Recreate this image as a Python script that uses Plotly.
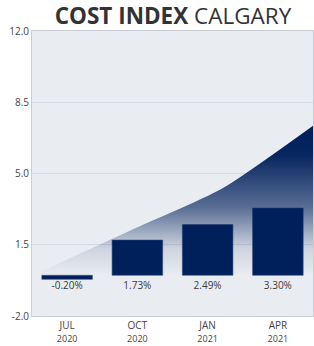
import plotly.graph_objects as go

# ---- data ----
months = ["JUL", "OCT", "JAN", "APR"]
years = ["2020", "2020", "2021", "2021"]
cost_index = [-0.20, 1.73, 2.49, 3.30]
value_labels = ["-0.20%", "1.73%", "2.49%", "3.30%"]

# decorative rising trend band behind the bars
trend_x = [-0.52, 0.9, 2.2, 3.52]
trend_y = [-0.05, 2.2, 4.25, 7.4]

y_ticks = [-2.0, 1.5, 5.0, 8.5, 12.0]

NAVY = "#00205b"
x_idx = list(range(len(months)))
tick_text = [f"{m}<br><span style='font-size:9px'>{y}</span>" for m, y in zip(months, years)]

fig = go.Figure()

fig.add_trace(go.Scatter(
    x=trend_x, y=trend_y, mode="lines", line=dict(width=0, shape="spline", smoothing=0.6),
    fill="tozeroy",
    fillgradient=dict(
        type="vertical", start=0, stop=7.4,
        colorscale=[[0, "rgba(0,32,91,0)"], [0.18, "rgba(0,32,91,0.12)"],
                    [0.45, "rgba(0,32,91,0.62)"], [0.8, "rgba(0,32,91,0.97)"],
                    [1, "rgba(0,32,91,1)"]],
    ),
    hoverinfo="skip", showlegend=False,
))

fig.add_trace(go.Bar(
    x=x_idx, y=cost_index, width=0.72,
    marker=dict(color=NAVY, line=dict(color="#34507f", width=0.6)),
    showlegend=False,
))

fig.add_trace(go.Scatter(
    x=x_idx, y=[-0.57] * len(x_idx), mode="text", text=value_labels,
    textfont=dict(family="Open Sans", size=10, color="#3a3a3a"),
    showlegend=False, hoverinfo="skip",
))

fig.update_layout(
    width=314, height=346,
    margin=dict(l=32, r=1, t=31, b=30),
    paper_bgcolor="white", plot_bgcolor="#e9ecf1",
    title=dict(
        text="<b>COST INDEX</b> CALGARY",
        x=173 / 314, xanchor="center", y=1 - 16 / 346, yanchor="middle",
        font=dict(family="Open Sans", size=22.5, color="#333333"),
    ),
    font=dict(family="Open Sans", color="#444444"),
    bargap=0.28,
)
fig.update_xaxes(
    range=[-0.5, 3.5], tickvals=x_idx, ticktext=tick_text,
    tickfont=dict(size=10, color="#444444"), showgrid=False, zeroline=False,
    showline=True, linecolor="#c9cdd4", linewidth=1, mirror=True, ticks="",
)
fig.update_yaxes(
    range=[-2.0, 12.0], tickvals=y_ticks, ticktext=[f"{v:.1f}" for v in y_ticks],
    tickfont=dict(size=10, color="#444444"), showgrid=True, gridcolor="#d6dbe3", gridwidth=1,
    zeroline=False, showline=True, linecolor="#c9cdd4", linewidth=1, mirror=True, ticks="",
)

fig.write_html("out.html", config={"displayModeBar": False},
               post_script="document.body.style.margin='0';")
